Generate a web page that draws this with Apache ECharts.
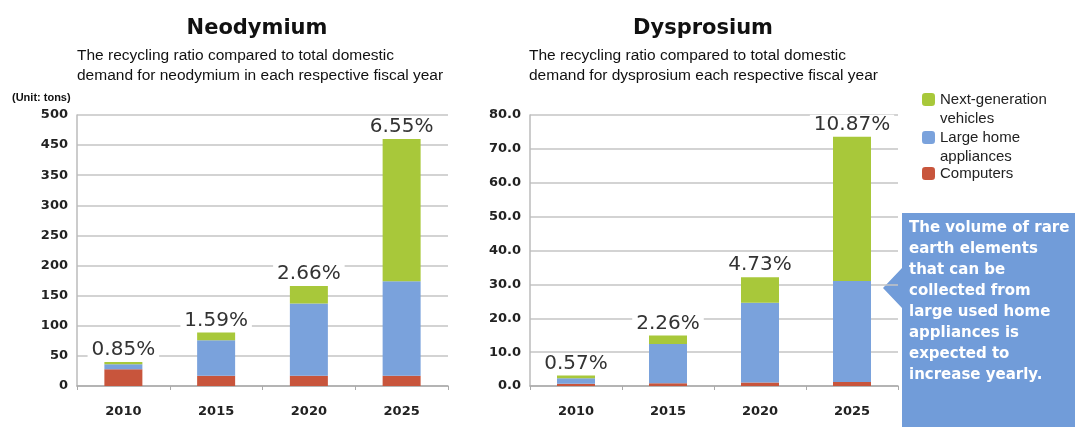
<!DOCTYPE html>
<html>
<head>
<meta charset="utf-8">
<script src="https://cdn.jsdelivr.net/npm/echarts@6/dist/echarts.min.js"></script>
<style>
  html, body { margin: 0; padding: 0; background: #fff; }
  #chart { width: 1075px; height: 427px; }
</style>
</head>
<body>
<div id="chart"></div>
<script>
// categories
const years = ["2010", "2015", "2020", "2025"];

// Neodymium (tons) - values in the drawn axis units
const ndComputers = [28, 17, 17, 17];
const ndAppliances = [8, 59, 120, 157];
const ndVehicles = [4, 13, 29, 236];
const ndRatio = ["0.85%", "1.59%", "2.66%", "6.55%"];
// tick labels as printed on the original (it skips 400)
const ndTickLabels = ["0", "50", "100", "150", "200", "250", "300", "350", "450", "500"];

// Dysprosium (tons)
const dyComputers = [0.7, 0.8, 1.0, 1.2];
const dyAppliances = [1.6, 11.6, 23.6, 29.8];
const dyVehicles = [0.8, 2.5, 7.5, 42.6];
const dyRatio = ["0.57%", "2.26%", "4.73%", "10.87%"];

const calloutLines = [
  "The volume of rare",
  "earth elements",
  "that can be",
  "collected from",
  "large used home",
  "appliances is",
  "expected to",
  "increase yearly."
];

const GREEN = "#a8c83a";
const BLUE = "#7aa2dc";
const RED = "#c8553c";
const narrow = "'Liberation Sans Narrow', 'Arial Narrow', 'Liberation Sans', sans-serif";
const wide = "'DejaVu Sans', sans-serif";

const myChart = echarts.init(document.getElementById("chart"));

function xAxisFor(gridIndex) {
  return {
    type: "category",
    gridIndex: gridIndex,
    data: years,
    axisLine: { lineStyle: { color: "#aaa", width: 1.5 } },
    axisTick: { show: true, length: 4, lineStyle: { color: "#aaa" } },
    axisLabel: {
      margin: 19,
      color: "#222",
      fontFamily: wide,
      fontWeight: "bold",
      fontSize: 13
    }
  };
}

function yAxisFor(gridIndex, max, interval, formatter) {
  return {
    type: "value",
    gridIndex: gridIndex,
    min: 0,
    max: max,
    interval: interval,
    axisLine: { show: true, lineStyle: { color: "#bbb", width: 1.5 } },
    axisTick: { show: false },
    splitLine: { lineStyle: { color: "#c4c4c4", width: 1.5 } },
    axisLabel: {
      margin: 9,
      color: "#222",
      fontFamily: wide,
      fontWeight: "bold",
      fontSize: 13,
      formatter: formatter
    }
  };
}

function barSeries(name, idx, data, color, ratio) {
  const s = {
    name: name,
    type: "bar",
    stack: "total" + idx,
    xAxisIndex: idx,
    yAxisIndex: idx,
    barWidth: 38,
    data: data,
    itemStyle: { color: color }
  };
  if (ratio) {
    s.label = {
      show: true,
      position: "top",
      distance: 2,
      formatter: (p) => ratio[p.dataIndex],
      color: "#333",
      fontFamily: wide,
      fontSize: 20,
      backgroundColor: "#fff",
      padding: [0, 4]
    };
  }
  return s;
}

// a leading blank line keeps the swatch level with the first text line
const legendNames = {
  "Next-generation vehicles": "\nNext-generation\nvehicles",
  "Large home appliances": "\nLarge home\nappliances",
  "Computers": "Computers"
};

function legendFor(name, top) {
  return {
    data: [name],
    left: 922,
    top: top,
    padding: 0,
    itemWidth: 13,
    itemHeight: 13,
    itemGap: 0,
    selectedMode: false,
    formatter: (n) => legendNames[n],
    textStyle: {
      fontFamily: narrow,
      fontSize: 15,
      lineHeight: 19,
      color: "#222"
    }
  };
}

// callout box with pointer towards the 2025 appliance bar
const calloutGraphics = [
  {
    type: "polygon",
    shape: {
      points: [[902, 213], [1075, 213], [1075, 427], [902, 427], [902, 308], [883, 288], [902, 268]]
    },
    style: { fill: "#719cd9" }
  }
].concat(calloutLines.map((t, i) => ({
  type: "text",
  left: 909,
  top: 221 + i * 20.9,
  style: {
    text: t,
    fill: "#fff",
    font: "bold 15px 'DejaVu Sans', sans-serif"
  }
})));

const option = {
  animation: false,
  title: [
    { text: "Neodymium", left: 257, top: 18, textAlign: "center", padding: 0,
      textStyle: { fontFamily: wide, fontWeight: "bold", fontSize: 21, color: "#111" } },
    { text: "The recycling ratio compared to total domestic\ndemand for neodymium in each respective fiscal year",
      left: 77, top: 46, padding: 0,
      textStyle: { fontFamily: narrow, fontWeight: "normal", fontSize: 15.5, lineHeight: 20, color: "#111" } },
    { text: "(Unit: tons)", left: 12, top: 92, padding: 0,
      textStyle: { fontFamily: narrow, fontWeight: "bold", fontSize: 11, color: "#111" } },
    { text: "Dysprosium", left: 703, top: 18, textAlign: "center", padding: 0,
      textStyle: { fontFamily: wide, fontWeight: "bold", fontSize: 21, color: "#111" } },
    { text: "The recycling ratio compared to total domestic\ndemand for dysprosium each respective fiscal year",
      left: 529, top: 46, padding: 0,
      textStyle: { fontFamily: narrow, fontWeight: "normal", fontSize: 15.5, lineHeight: 20, color: "#111" } }
  ],
  legend: [
    legendFor("Next-generation vehicles", 71),
    legendFor("Large home appliances", 109),
    legendFor("Computers", 164)
  ],
  grid: [
    { left: 77, top: 115, width: 371, height: 271 },
    { left: 530, top: 115, width: 368, height: 271 }
  ],
  xAxis: [xAxisFor(0), xAxisFor(1)],
  yAxis: [
    yAxisFor(0, 450, 50, (v) => ndTickLabels[Math.round(v / 50)]),
    yAxisFor(1, 80, 10, (v) => v.toFixed(1))
  ],
  series: [
    barSeries("Computers", 0, ndComputers, RED),
    barSeries("Large home appliances", 0, ndAppliances, BLUE),
    barSeries("Next-generation vehicles", 0, ndVehicles, GREEN, ndRatio),
    barSeries("Computers", 1, dyComputers, RED),
    barSeries("Large home appliances", 1, dyAppliances, BLUE),
    barSeries("Next-generation vehicles", 1, dyVehicles, GREEN, dyRatio)
  ],
  graphic: calloutGraphics
};

myChart.setOption(option);
</script>
</body>
</html>
